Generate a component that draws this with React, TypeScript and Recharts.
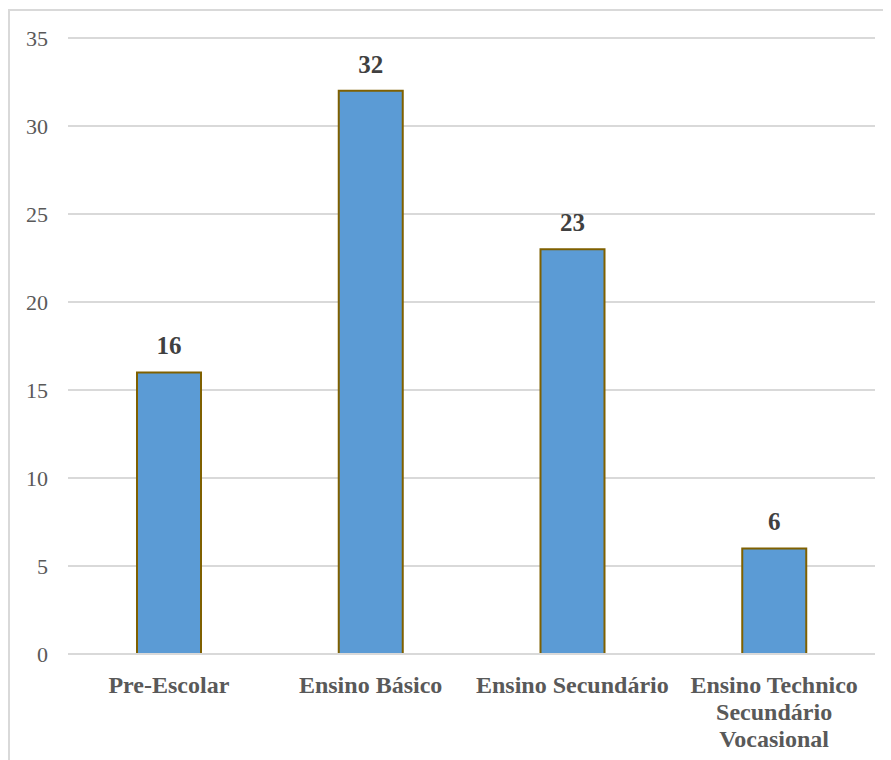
import React from "react";
import { BarChart, Bar, XAxis, YAxis, CartesianGrid, LabelList } from "recharts";

const categories = ["Pre-Escolar", "Ensino Básico", "Ensino Secundário", "Ensino Technico Secundário Vocasional"];
const values = [16, 32, 23, 6];
const yTicks = [0, 5, 10, 15, 20, 25, 30, 35];

const data = categories.map((c, i) => ({ name: c, value: values[i] }));

const FONT = "'Liberation Serif', 'Times New Roman', serif";
const CAT_FONT_SIZE = 24;
const WRAP_WIDTH = 195;

let measureCtx: CanvasRenderingContext2D | null = null;
function measure(s: string): number {
  if (!measureCtx) {
    const c = document.createElement("canvas");
    measureCtx = c.getContext("2d");
  }
  if (!measureCtx) return s.length * CAT_FONT_SIZE * 0.5;
  measureCtx.font = `bold ${CAT_FONT_SIZE}px 'Liberation Serif'`;
  return measureCtx.measureText(s).width;
}

function wrap(label: string): string[] {
  const words = label.split(" ");
  const lines: string[] = [];
  let cur = "";
  for (const w of words) {
    const trial = cur ? cur + " " + w : w;
    if (cur && measure(trial) > WRAP_WIDTH) {
      lines.push(cur);
      cur = w;
    } else {
      cur = trial;
    }
  }
  if (cur) lines.push(cur);
  return lines;
}

const CategoryTick = (props: any) => {
  const { x, y, payload } = props;
  const lines = wrap(String(payload.value));
  return (
    <text
      x={x}
      y={y + 39}
      textAnchor="middle"
      fontFamily={FONT}
      fontSize={CAT_FONT_SIZE}
      fontWeight="bold"
      fill="#595959"
    >
      {lines.map((l, i) => (
        <tspan key={i} x={x} dy={i === 0 ? 0 : 27}>
          {l}
        </tspan>
      ))}
    </text>
  );
};

export default function App() {
  return (
    <div style={{ position: "relative", width: 883, height: 752, overflow: "hidden" }}>
      <div
        style={{
          position: "absolute",
          top: 1,
          left: 0,
          width: 1000,
          height: 1000,
          borderTop: "2px solid #d9d9d9",
          borderLeft: "2px solid #d9d9d9",
          boxSizing: "border-box",
        }}
      />
      <div style={{ position: "absolute", top: 0, left: 0 }}>
        <BarChart
          width={883}
          height={752}
          data={data}
          margin={{ top: 30, right: 16, bottom: 16, left: 0 }}
        >
          <CartesianGrid vertical={false} stroke="#d9d9d9" strokeWidth={2} />
          <XAxis
            dataKey="name"
            axisLine={{ stroke: "#d9d9d9", strokeWidth: 2 }}
            tickLine={false}
            tickSize={0}
            tickMargin={0}
            height={90}
            interval={0}
            tick={<CategoryTick />}
          />
          <YAxis
            domain={[0, 35]}
            ticks={yTicks}
            width={60}
            axisLine={false}
            tickLine={false}
            tickSize={0}
            tickMargin={20}
            tick={{ fontFamily: FONT, fontSize: 22, fill: "#595959" }}
          />
          <Bar
            dataKey="value"
            fill="#5b9bd5"
            stroke="#7f6000"
            strokeWidth={2}
            barSize={64}
            isAnimationActive={false}
          >
            <LabelList
              dataKey="value"
              position="top"
              offset={18}
              style={{ fontFamily: FONT, fontSize: 25, fontWeight: "bold", fill: "#404040" }}
            />
          </Bar>
        </BarChart>
      </div>
    </div>
  );
}
